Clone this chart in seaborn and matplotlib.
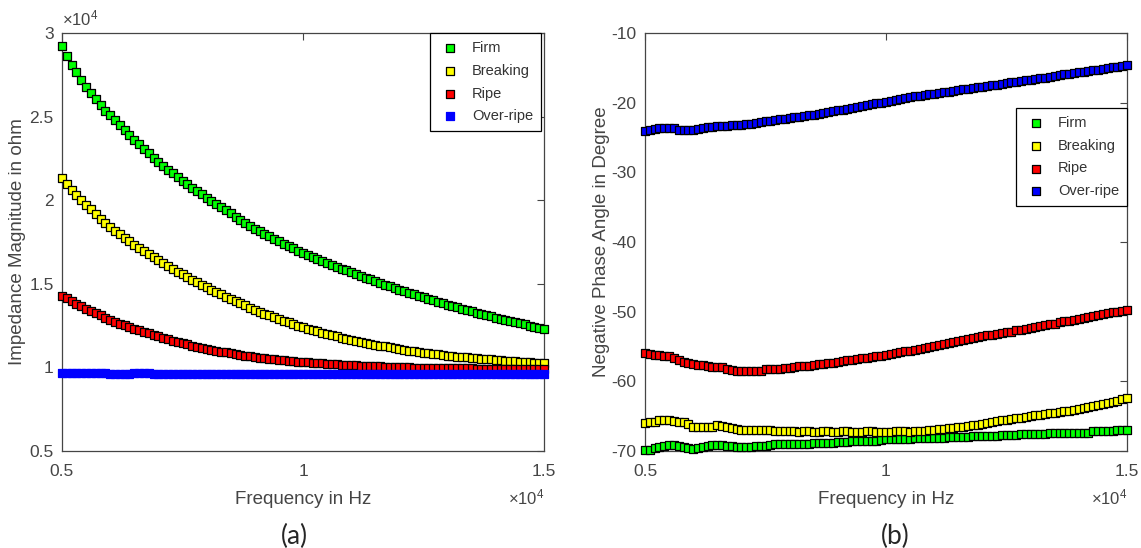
import numpy as np
import matplotlib
matplotlib.use('Agg')
import matplotlib.pyplot as plt
import seaborn as sns

# Frequency grid (Hz), 100 Hz steps
freq = np.linspace(5000, 15000, 101)

series_names = ['Firm', 'Breaking', 'Ripe', 'Over-ripe']
series_colors = ['#00ff00', '#ffff00', '#ff0000', '#0000ff']

# (a) impedance magnitude, ohm
firm_mag = [29200, 28600, 28100, 27640, 27200, 26790, 26400, 26030, 25680, 25360,
            25100, 24790, 24490, 24195, 23905, 23620, 23340, 23065, 22795, 22535,
            22300, 22065, 21835, 21610, 21390, 21175, 20960, 20750, 20545, 20345,
            20150, 19955, 19765, 19575, 19390, 19205, 19020, 18840, 18660, 18480,
            18300, 18140, 17985, 17835, 17685, 17540, 17395, 17255, 17115, 16980,
            16850, 16725, 16605, 16485, 16367, 16252, 16137, 16025, 15915, 15805,
            15700, 15590, 15482, 15374, 15268, 15163, 15058, 14955, 14853, 14751,
            14650, 14555, 14462, 14370, 14279, 14189, 14099, 14011, 13923, 13836,
            13750, 13670, 13591, 13513, 13435, 13358, 13281, 13205, 13129, 13054,
            12980, 12910, 12840, 12771, 12702, 12634, 12566, 12499, 12432, 12366,
            12300]
breaking_mag = [21300, 20950, 20630, 20320, 20020, 19730, 19450, 19175, 18905, 18645,
                18400, 18180, 17965, 17755, 17550, 17350, 17155, 16960, 16770, 16585,
                16400, 16225, 16055, 15890, 15725, 15565, 15405, 15250, 15095, 14945,
                14800, 14655, 14515, 14375, 14238, 14103, 13968, 13836, 13706, 13578,
                13450, 13335, 13223, 13113, 13005, 12899, 12795, 12693, 12593, 12495,
                12400, 12315, 12233, 12153, 12076, 12001, 11928, 11856, 11786, 11717,
                11650, 11588, 11528, 11470, 11414, 11359, 11305, 11252, 11200, 11149,
                11100, 11054, 11010, 10967, 10926, 10886, 10847, 10809, 10772, 10736,
                10700, 10672, 10645, 10619, 10593, 10568, 10543, 10519, 10496, 10473,
                10450, 10430, 10410, 10390, 10370, 10350, 10330, 10310, 10290, 10270,
                10250]
ripe_mag = [14300, 14130, 13970, 13815, 13665, 13520, 13380, 13240, 13105, 12975,
            12850, 12735, 12625, 12520, 12418, 12318, 12220, 12125, 12031, 11939,
            11850, 11765, 11683, 11603, 11526, 11451, 11378, 11306, 11236, 11167,
            11100, 11045, 10992, 10941, 10892, 10844, 10797, 10751, 10706, 10662,
            10620, 10586, 10553, 10521, 10490, 10460, 10431, 10402, 10374, 10347,
            10320, 10299, 10279, 10259, 10240, 10221, 10202, 10184, 10166, 10148,
            10130, 10118, 10106, 10094, 10082, 10070, 10058, 10046, 10034, 10022,
            10010, 10004, 9998, 9992, 9986, 9980, 9974, 9968, 9962, 9956,
            9950, 9947, 9944, 9941, 9938, 9935, 9932, 9929, 9926, 9923,
            9920, 9916, 9912, 9908, 9904, 9900, 9896, 9892, 9888, 9884,
            9880]
overripe_mag = [9650, 9650, 9650, 9650, 9650, 9650, 9650, 9650, 9650, 9650,
                9590, 9590, 9590, 9590, 9590, 9640, 9640, 9640, 9640, 9590,
                9590, 9590, 9590, 9590, 9590, 9590, 9590, 9590, 9590, 9590,
                9590, 9590, 9590, 9590, 9590, 9590, 9590, 9590, 9590, 9590,
                9590, 9590, 9590, 9590, 9590, 9590, 9590, 9590, 9590, 9590,
                9590, 9590, 9590, 9590, 9590, 9590, 9590, 9590, 9590, 9590,
                9590, 9590, 9590, 9590, 9590, 9590, 9590, 9590, 9590, 9590,
                9590, 9590, 9590, 9590, 9590, 9590, 9590, 9590, 9590, 9590,
                9590, 9590, 9590, 9590, 9590, 9590, 9590, 9590, 9590, 9590,
                9590, 9590, 9590, 9590, 9590, 9590, 9590, 9590, 9590, 9590,
                9590]

# (b) negative phase angle, degree
firm_ph = [-69.85, -69.8, -69.6, -69.45, -69.3, -69.2, -69.15, -69.3, -69.45, -69.6,
           -69.65, -69.55, -69.4, -69.3, -69.15, -69.1, -69.15, -69.3, -69.35, -69.4,
           -69.4, -69.4, -69.4, -69.35, -69.35, -69.3, -69.1, -69.05, -69.0, -69.0,
           -69.0, -69.0, -68.95, -68.95, -68.95, -68.9, -68.9, -68.8, -68.8, -68.8,
           -68.75, -68.75, -68.7, -68.6, -68.55, -68.55, -68.55, -68.5, -68.5, -68.35,
           -68.3, -68.3, -68.3, -68.25, -68.25, -68.25, -68.2, -68.15, -68.15, -68.1,
           -68.1, -68.1, -68.1, -68.05, -68.0, -67.95, -67.95, -67.95, -67.9, -67.9,
           -67.8, -67.8, -67.8, -67.8, -67.75, -67.75, -67.75, -67.65, -67.6, -67.6,
           -67.6, -67.6, -67.55, -67.55, -67.45, -67.4, -67.4, -67.4, -67.4, -67.4,
           -67.35, -67.35, -67.35, -67.2, -67.2, -67.2, -67.2, -67.15, -67.0, -67.0,
           -66.95]
breaking_ph = [-66.0, -65.9, -65.8, -65.6, -65.6, -65.6, -65.7, -65.8, -65.9, -66.1,
               -66.5, -66.6, -66.6, -66.6, -66.5, -66.3, -66.4, -66.6, -66.7, -66.9,
               -66.95, -67.0, -67.0, -67.05, -67.0, -67.0, -67.05, -67.1, -67.1, -67.1,
               -67.2, -67.2, -67.25, -67.2, -67.2, -67.25, -67.25, -67.2, -67.2, -67.25,
               -67.25, -67.2, -67.2, -67.25, -67.25, -67.25, -67.2, -67.2, -67.25, -67.25,
               -67.25, -67.25, -67.2, -67.2, -67.2, -67.25, -67.2, -67.15, -67.1, -67.05,
               -67.0, -66.9, -66.85, -66.75, -66.7, -66.6, -66.5, -66.4, -66.3, -66.2,
               -66.1, -66.0, -65.85, -65.75, -65.6, -65.5, -65.4, -65.3, -65.2, -65.1,
               -65.0, -64.9, -64.8, -64.7, -64.6, -64.5, -64.4, -64.3, -64.2, -64.1,
               -64.0, -63.85, -63.7, -63.6, -63.45, -63.3, -63.1, -62.95, -62.8, -62.6,
               -62.4]
ripe_ph = [-56.0, -56.1, -56.2, -56.2, -56.3, -56.4, -56.6, -56.9, -57.2, -57.4,
           -57.5, -57.6, -57.7, -57.8, -57.9, -57.95, -58.0, -58.3, -58.4, -58.45,
           -58.5, -58.5, -58.5, -58.5, -58.45, -58.3, -58.25, -58.2, -58.2, -58.15,
           -58.1, -57.9, -57.85, -57.8, -57.75, -57.6, -57.55, -57.5, -57.4, -57.3,
           -57.2, -57.1, -57.0, -56.9, -56.8, -56.7, -56.6, -56.5, -56.4, -56.3,
           -56.2, -56.1, -55.95, -55.85, -55.7, -55.6, -55.5, -55.35, -55.2, -55.1,
           -54.95, -54.8, -54.65, -54.5, -54.35, -54.2, -54.1, -53.95, -53.8, -53.65,
           -53.5, -53.4, -53.3, -53.2, -53.05, -52.95, -52.85, -52.7, -52.6, -52.5,
           -52.4, -52.25, -52.1, -51.95, -51.8, -51.7, -51.55, -51.4, -51.3, -51.15,
           -51.05, -50.9, -50.8, -50.65, -50.5, -50.4, -50.25, -50.1, -50.0, -49.85,
           -49.7]
overripe_ph = [-24.0, -23.9, -23.8, -23.7, -23.7, -23.7, -23.7, -23.95, -23.95, -23.95,
               -23.9, -23.8, -23.6, -23.5, -23.45, -23.4, -23.3, -23.3, -23.25, -23.2,
               -23.15, -23.1, -23.0, -22.9, -22.8, -22.7, -22.6, -22.5, -22.4, -22.3,
               -22.2, -22.1, -22.0, -21.9, -21.8, -21.7, -21.6, -21.5, -21.35, -21.2,
               -21.1, -21.0, -20.85, -20.75, -20.6, -20.5, -20.4, -20.25, -20.1, -20.0,
               -19.85, -19.7, -19.6, -19.45, -19.3, -19.2, -19.1, -19.0, -18.9, -18.8,
               -18.7, -18.6, -18.5, -18.4, -18.3, -18.2, -18.1, -18.0, -17.9, -17.8,
               -17.7, -17.6, -17.5, -17.4, -17.3, -17.2, -17.1, -17.0, -16.9, -16.8,
               -16.7, -16.6, -16.5, -16.4, -16.3, -16.2, -16.1, -15.95, -15.85, -15.75,
               -15.65, -15.55, -15.45, -15.35, -15.25, -15.15, -15.05, -14.95, -14.85, -14.75,
               -14.6]

mag_ticks = [5000, 10000, 15000, 20000, 25000, 30000]
mag_ticklabels = ['0.5', '1', '1.5', '2', '2.5', '3']
ph_ticks = [-70, -60, -50, -40, -30, -20, -10]
freq_ticks = [5000, 10000, 15000]
freq_ticklabels = ['0.5', '1', '1.5']

sns.set_style('white')
plt.rcParams['font.family'] = ['Liberation Sans', 'DejaVu Sans']
plt.rcParams['axes.unicode_minus'] = False
plt.rcParams['mathtext.fontset'] = 'custom'
plt.rcParams['mathtext.rm'] = 'Liberation Sans'
plt.rcParams['mathtext.it'] = 'Liberation Sans:italic'

GREY = '#454545'

fig = plt.figure(figsize=(11.41, 5.48), dpi=100)
ax1 = fig.add_axes([62 / 1141, 97 / 548, 482 / 1141, 418 / 548])
ax2 = fig.add_axes([645 / 1141, 97 / 548, 482 / 1141, 418 / 548])


def draw_series(ax, values, blue_edge):
    for name, color, y in zip(series_names, series_colors, values):
        edge = 'black'
        if color == '#0000ff' and not blue_edge:
            edge = color
        sns.scatterplot(x=freq, y=y, ax=ax, marker='s', s=40, color=color,
                        edgecolor=edge, linewidth=0.9, label=name,
                        clip_on=False, zorder=3)


def style_axes(ax):
    ax.set_xlim(5000, 15000)
    ax.set_xticks(freq_ticks)
    ax.set_xticklabels(freq_ticklabels)
    ax.tick_params(direction='in', length=5, width=0.8, top=True, right=True,
                   colors=GREY, labelsize=12.5)
    ax.tick_params(axis='x', pad=9)
    ax.tick_params(axis='y', pad=6)
    for sp in ax.spines.values():
        sp.set_color(GREY)
        sp.set_linewidth(0.9)
    ax.set_xlabel('Frequency in Hz', fontsize=13.5, color=GREY)
    ax.xaxis.set_label_coords(0.5, -0.095)
    ax.text(1.0, -0.11, r'$\times10^{4}$', transform=ax.transAxes,
            ha='right', va='center', fontsize=12, color=GREY)


def add_legend(ax, anchor):
    leg = ax.legend(loc='upper right', bbox_to_anchor=anchor, borderaxespad=0,
                    fontsize=10.5, frameon=True, fancybox=False, framealpha=1,
                    edgecolor='black', labelspacing=0.6, handlelength=1.6,
                    handletextpad=0.7, borderpad=0.55, scatterpoints=1)
    leg.get_frame().set_linewidth(0.9)
    for t in leg.get_texts():
        t.set_color('#333333')


# (a)
draw_series(ax1, [firm_mag, breaking_mag, ripe_mag, overripe_mag], blue_edge=False)
style_axes(ax1)
ax1.set_ylim(5000, 30000)
ax1.set_yticks(mag_ticks)
ax1.set_yticklabels(mag_ticklabels)
ax1.set_ylabel('Impedance Magnitude in ohm', fontsize=13.5, color=GREY)
ax1.yaxis.set_label_coords(-0.075, 0.5)
ax1.text(0.0, 1.01, r'$\times10^{4}$', transform=ax1.transAxes,
         ha='left', va='bottom', fontsize=12, color=GREY)
add_legend(ax1, (0.994, 1.0))

# (b)
draw_series(ax2, [firm_ph, breaking_ph, ripe_ph, overripe_ph], blue_edge=True)
style_axes(ax2)
ax2.set_ylim(-70, -10)
ax2.set_yticks(ph_ticks)
ax2.set_ylabel('Negative Phase Angle in Degree', fontsize=13.5, color=GREY)
ax2.yaxis.set_label_coords(-0.073, 0.5)
add_legend(ax2, (1.0, 0.821))

fig.text(294 / 1141, 1 - 536 / 548, '(a)', ha='center', va='center',
         fontsize=19, family=['Lato', 'DejaVu Sans'])
fig.text(895 / 1141, 1 - 536 / 548, '(b)', ha='center', va='center',
         fontsize=19, family=['Lato', 'DejaVu Sans'])

fig.savefig('out.png', dpi=100)
